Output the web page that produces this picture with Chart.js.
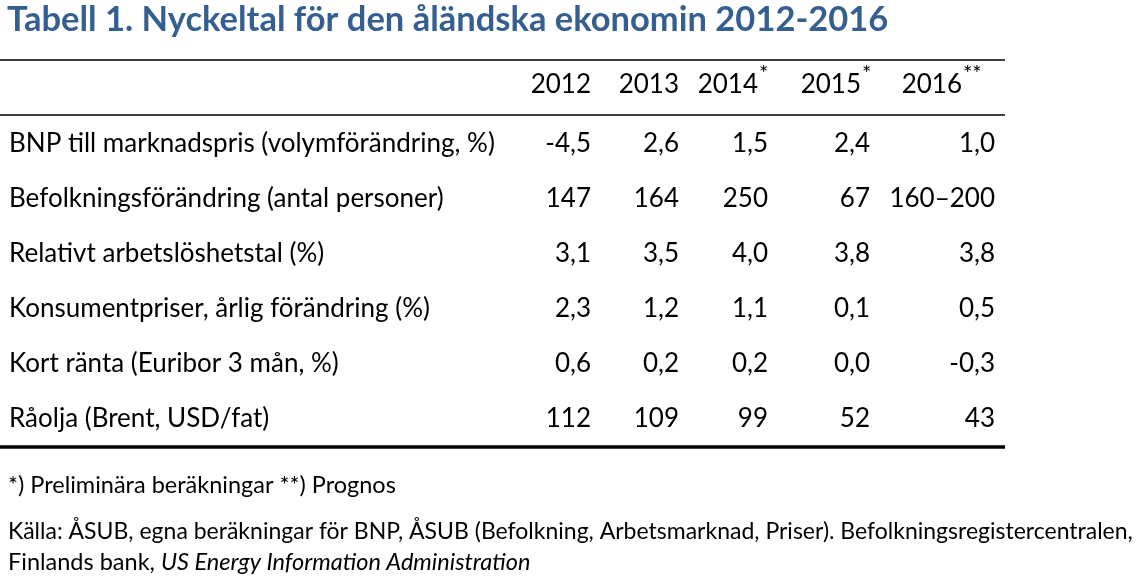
<!DOCTYPE html>
<html>
<head>
<meta charset="utf-8">
<script src="https://cdn.jsdelivr.net/npm/chart.js@4/dist/chart.umd.min.js"></script>
<style>
  html, body { margin: 0; padding: 0; background: #fff; }
</style>
</head>
<body>
<canvas id="myChart" width="1136" height="583"></canvas>
<script>
// Table content
var title = 'Tabell 1. Nyckeltal för den åländska ekonomin 2012-2016';
var years = ['2012', '2013', '2014', '2015', '2016'];
var yearMarks = ['', '', '*', '*', '**'];
var rowLabels = [
  'BNP till marknadspris (volymförändring, %)',
  'Befolkningsförändring (antal personer)',
  'Relativt arbetslöshetstal (%)',
  'Konsumentpriser, årlig förändring (%)',
  'Kort ränta (Euribor 3 mån, %)',
  'Råolja (Brent, USD/fat)'
];
var bnpChange = [-4.5, 2.6, 1.5, 2.4, 1.0];
var population = [147, 164, 250, 67, [160, 200]];
var unemployment = [3.1, 3.5, 4.0, 3.8, 3.8];
var consumerPrices = [2.3, 1.2, 1.1, 0.1, 0.5];
var euribor = [0.6, 0.2, 0.2, 0.0, -0.3];
var brentOil = [112, 109, 99, 52, 43];
var rowDecimals = [1, 0, 1, 1, 1, 0];
var footnote = '*) Preliminära beräkningar **) Prognos';
var source1 = 'Källa: ÅSUB, egna beräkningar för BNP, ÅSUB (Befolkning, Arbetsmarknad, Priser). Befolkningsregistercentralen,';
var source2 = 'Finlands bank, ';
var source2Italic = 'US Energy Information Administration';

var rows = [bnpChange, population, unemployment, consumerPrices, euribor, brentOil];

// layout: right edge of each column (x scale units) and header row position
var colRight = [5.91, 6.79, 7.68, 8.70, 9.95];
var headRight = [5.91, 6.79, 7.58, 8.61, 9.62];
var headerRow = -0.09;
var midRule = 0.47;

var FONT = 'Lato, "Open Sans", sans-serif';

function fmt(v, dec) {
  if (Array.isArray(v)) return v[0] + '\u2013' + v[1];
  return v.toFixed(dec).replace('.', ',');
}

var tablePlugin = {
  id: 'table',
  afterDraw: function(chart) {
    var ctx = chart.ctx;
    var xs = chart.scales.x, ys = chart.scales.y;
    var area = chart.chartArea;
    ctx.save();

    // title
    ctx.fillStyle = '#365F91';
    ctx.font = 'bold 34.5px ' + FONT;
    ctx.textAlign = 'left';
    ctx.textBaseline = 'middle';
    ctx.fillText(title, 7, 20);

    // rules
    ctx.strokeStyle = '#000';
    ctx.lineWidth = 1.5;
    ctx.beginPath();
    ctx.moveTo(area.left, area.top);
    ctx.lineTo(area.right, area.top);
    var ym = ys.getPixelForValue(midRule);
    ctx.moveTo(area.left, ym);
    ctx.lineTo(area.right, ym);
    ctx.stroke();
    ctx.lineWidth = 3.5;
    ctx.beginPath();
    ctx.moveTo(area.left, area.bottom);
    ctx.lineTo(area.right, area.bottom);
    ctx.stroke();

    // header
    ctx.fillStyle = '#000';
    var hy = ys.getPixelForValue(headerRow);
    years.forEach(function(y, j) {
      var xr = xs.getPixelForValue(headRight[j]);
      ctx.font = '26px ' + FONT;
      ctx.textAlign = 'right';
      ctx.fillText(y, xr, hy);
      if (yearMarks[j]) {
        ctx.font = '22px ' + FONT;
        ctx.textAlign = 'left';
        ctx.fillText(yearMarks[j], xr + 1, hy - 10);
      }
    });

    // body
    chart.data.datasets.forEach(function(ds, i) {
      var meta = chart.getDatasetMeta(i);
      ctx.font = '26px ' + FONT;
      ctx.textAlign = 'left';
      ctx.fillText(ds.label, 9, meta.data[0].y);
      ctx.textAlign = 'right';
      meta.data.forEach(function(pt, j) {
        ctx.fillText(fmt(ds.data[j].v, rowDecimals[i]), pt.x, pt.y);
      });
    });

    // footnotes
    ctx.textAlign = 'left';
    ctx.font = '23.5px ' + FONT;
    ctx.fillText(footnote, 8, area.bottom + 38);
    ctx.font = '23px ' + FONT;
    ctx.fillText(source1, 8, area.bottom + 85);
    ctx.font = '23.5px ' + FONT;
    ctx.fillText(source2, 8, area.bottom + 115);
    var w = ctx.measureText(source2).width;
    ctx.font = 'italic 23.5px ' + FONT;
    ctx.fillText(source2Italic, 8 + w, area.bottom + 115);

    ctx.restore();
  }
};

var ctx = document.getElementById('myChart').getContext('2d');
var chart = new Chart(ctx, {
  type: 'scatter',
  data: {
    datasets: rows.map(function(vals, i) {
      return {
        label: rowLabels[i],
        data: vals.map(function(v, j) { return { x: colRight[j], y: i + 1, v: v }; }),
        pointRadius: 0,
        pointHoverRadius: 0
      };
    })
  },
  options: {
    responsive: false,
    animation: false,
    events: [],
    layout: { padding: { top: 60, bottom: 136, left: 0, right: 131 } },
    scales: {
      x: { type: 'linear', min: 0, max: 10.05, display: false },
      y: { type: 'linear', min: -0.53, max: 6.51, reverse: true, display: false }
    },
    plugins: { legend: { display: false }, tooltip: { enabled: false } }
  },
  plugins: [tablePlugin]
});
</script>
</body>
</html>
